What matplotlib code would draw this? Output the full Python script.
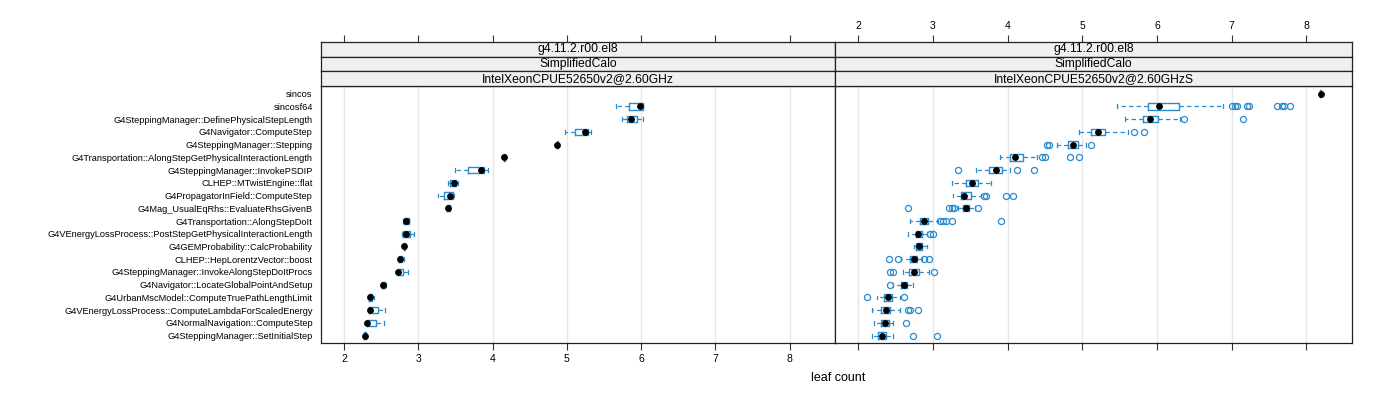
import matplotlib
matplotlib.use("Agg")
import matplotlib.pyplot as plt

plt.rcParams['font.family'] = ['Liberation Sans', 'DejaVu Sans']

categories = [
    "sincos", "sincosf64", "G4SteppingManager::DefinePhysicalStepLength",
    "G4Navigator::ComputeStep", "G4SteppingManager::Stepping",
    "G4Transportation::AlongStepGetPhysicalInteractionLength",
    "G4SteppingManager::InvokePSDIP", "CLHEP::MTwistEngine::flat",
    "G4PropagatorInField::ComputeStep", "G4Mag_UsualEqRhs::EvaluateRhsGivenB",
    "G4Transportation::AlongStepDoIt",
    "G4VEnergyLossProcess::PostStepGetPhysicalInteractionLength",
    "G4GEMProbability::CalcProbability", "CLHEP::HepLorentzVector::boost",
    "G4SteppingManager::InvokeAlongStepDoItProcs",
    "G4Navigator::LocateGlobalPointAndSetup",
    "G4UrbanMscModel::ComputeTruePathLengthLimit",
    "G4VEnergyLossProcess::ComputeLambdaForScaledEnergy",
    "G4NormalNavigation::ComputeStep", "G4SteppingManager::SetInitialStep",
]

strip_lines = ["g4.11.2.r00.el8", "SimplifiedCalo"]
panel_names = ["IntelXeonCPUE52650v2@2.60GHz", "IntelXeonCPUE52650v2@2.60GHzS"]
x_ticks = [2, 3, 4, 5, 6, 7, 8]
x_label = "leaf count"

# Left panel (…@2.60GHz): whisker low, Q1, median, Q3, whisker high (None = no data)
left_wlo = [None, 5.66, 5.74, 4.98, 4.86, 4.15, 3.49, 3.40, 3.26, 3.38,
            2.80, 2.78, 2.80, 2.73, 2.71, 2.50, 2.33, 2.33, 2.30, 2.27]
left_q1 = [None, 5.83, 5.81, 5.11, 4.865, 4.155, 3.67, 3.43, 3.34, 3.39,
           2.81, 2.80, 2.805, 2.74, 2.72, 2.51, 2.34, 2.34, 2.31, 2.275]
left_med = [None, 5.99, 5.87, 5.25, 4.87, 4.16, 3.85, 3.48, 3.42, 3.40,
            2.84, 2.84, 2.81, 2.75, 2.73, 2.53, 2.35, 2.345, 2.315, 2.28]
left_q3 = [None, 6.02, 5.95, 5.29, 4.875, 4.165, 3.88, 3.51, 3.47, 3.42,
           2.87, 2.89, 2.82, 2.78, 2.79, 2.55, 2.38, 2.46, 2.43, 2.29]
left_whi = [None, 6.03, 6.02, 5.32, 4.88, 4.17, 3.94, 3.53, 3.48, 3.43,
            2.88, 2.94, 2.825, 2.81, 2.86, 2.56, 2.41, 2.55, 2.54, 2.30]
left_out = [[] for _ in categories]

# Right panel (…@2.60GHzS)
right_wlo = [8.18, 5.47, 5.57, 4.96, 4.66, 3.90, 3.58, 3.25, 3.27, 3.33,
             2.69, 2.67, 2.75, 2.58, 2.60, 2.47, 2.25, 2.19, 2.21, 2.18]
right_q1 = [8.185, 5.88, 5.81, 5.12, 4.81, 4.03, 3.75, 3.44, 3.38, 3.40,
            2.83, 2.77, 2.78, 2.70, 2.68, 2.57, 2.35, 2.31, 2.31, 2.27]
right_med = [8.19, 6.03, 5.90, 5.21, 4.87, 4.10, 3.85, 3.53, 3.42, 3.44,
             2.88, 2.80, 2.82, 2.75, 2.75, 2.61, 2.40, 2.37, 2.36, 2.32]
right_q3 = [8.195, 6.30, 6.02, 5.30, 4.94, 4.20, 3.92, 3.61, 3.51, 3.49,
            2.94, 2.86, 2.86, 2.79, 2.82, 2.65, 2.45, 2.43, 2.41, 2.37]
right_whi = [8.20, 6.89, 6.31, 5.61, 5.05, 4.40, 4.03, 3.78, 3.65, 3.56,
             3.07, 2.92, 2.92, 2.86, 2.95, 2.74, 2.56, 2.56, 2.47, 2.46]
right_out = [
    [],
    [7.00, 7.05, 7.07, 7.20, 7.23, 7.60, 7.67, 7.70, 7.78],
    [6.36, 7.15],
    [5.69, 5.83],
    [4.53, 4.56, 5.12],
    [4.46, 4.50, 4.83, 4.96],
    [3.33, 4.12, 4.36],
    [],
    [3.68, 3.71, 3.98, 4.07],
    [2.67, 3.22, 3.25, 3.28, 3.60],
    [3.09, 3.14, 3.18, 3.25, 3.91],
    [2.96, 3.00],
    [],
    [2.41, 2.53, 2.88, 2.95],
    [2.43, 2.46, 3.02],
    [2.42],
    [2.12, 2.62],
    [2.67, 2.69, 2.80],
    [2.64],
    [2.74, 3.05],
]

BLUE = "#2a8ccc"
W, H = 1400, 400
fig = plt.figure(figsize=(14, 4), dpi=100)

panel_top, panel_bot = 86.0, 343.3
strip_top, strip_h = 41.7, 14.8
panels_px = [(321, 835), (835, 1352)]
xlim = (1.69, 8.61)
n = len(categories)
ypos = list(range(n, 0, -1))

def make_stats(wlo, q1, med, q3, whi, out):
    stats, pos = [], []
    for i in range(n):
        if wlo[i] is None:
            continue
        stats.append(dict(whislo=wlo[i], q1=q1[i], med=med[i], q3=q3[i],
                          whishi=whi[i], mean=med[i], fliers=out[i]))
        pos.append(ypos[i])
    return stats, pos

data = [
    (left_wlo, left_q1, left_med, left_q3, left_whi, left_out),
    (right_wlo, right_q1, right_med, right_q3, right_whi, right_out),
]

for p, ((l, r), d) in enumerate(zip(panels_px, data)):
    ax = fig.add_axes([l / W, 1 - panel_bot / H, (r - l) / W,
                       (panel_bot - panel_top) / H])
    for xv in x_ticks:
        ax.axvline(xv, color="#e6e6e6", lw=1.0, zorder=0)
    stats, pos = make_stats(*d)
    ax.bxp(stats, positions=pos, vert=False, widths=0.5, capwidths=0.3,
           showmeans=True, showfliers=True, patch_artist=False,
           boxprops=dict(color=BLUE, lw=1.0),
           whiskerprops=dict(color=BLUE, lw=0.9, linestyle=(0, (3.5, 2.5))),
           capprops=dict(color=BLUE, lw=0.9),
           medianprops=dict(lw=0, color=BLUE),
           meanprops=dict(marker='o', markerfacecolor='black',
                          markeredgecolor='black', markersize=3.9),
           flierprops=dict(marker='o', markerfacecolor='none',
                           markeredgecolor=BLUE, markersize=4.4, mew=0.9))
    ax.set_xlim(*xlim)
    ax.set_ylim(0.4, n + 0.6)
    ax.set_xticks(x_ticks)
    ax.tick_params(axis='x', direction='out', length=5, width=0.8,
                   labelsize=7.5, pad=3, color="#333333")
    if p == 0:
        ax.set_xticklabels([str(t) for t in x_ticks])
        ax.set_yticks(ypos)
        ax.set_yticklabels(categories, fontsize=6.7)
        ax.tick_params(axis='y', length=0, pad=6)
    else:
        ax.set_xticklabels([])
        ax.set_yticks([])
    for s in ax.spines.values():
        s.set_color("#222222")
        s.set_linewidth(0.9)

    # strips
    texts = strip_lines + [panel_names[p]]
    for k, t in enumerate(texts):
        top = strip_top + k * strip_h
        sax = fig.add_axes([l / W, 1 - (top + strip_h) / H, (r - l) / W,
                            strip_h / H])
        sax.set_facecolor("#f0f0f0")
        sax.set_xlim(*xlim)
        sax.set_ylim(0, 1)
        sax.set_yticks([])
        sax.text(0.5, 0.5, t, transform=sax.transAxes, ha='center',
                 va='center', fontsize=8.7)
        for s in sax.spines.values():
            s.set_color("#222222")
            s.set_linewidth(0.9)
        if k == 0:
            sax.set_xticks(x_ticks)
            sax.xaxis.set_ticks_position('top')
            sax.tick_params(axis='x', direction='out', length=5, width=0.8,
                            labelsize=7.5, pad=3, color="#333333")
            if p == 1:
                sax.set_xticklabels([str(t) for t in x_ticks])
            else:
                sax.set_xticklabels([])
        else:
            sax.set_xticks([])

fig.text(838 / W, 1 - 378 / H, x_label, ha='center', va='center', fontsize=9)

fig.savefig("out.png", dpi=100)
